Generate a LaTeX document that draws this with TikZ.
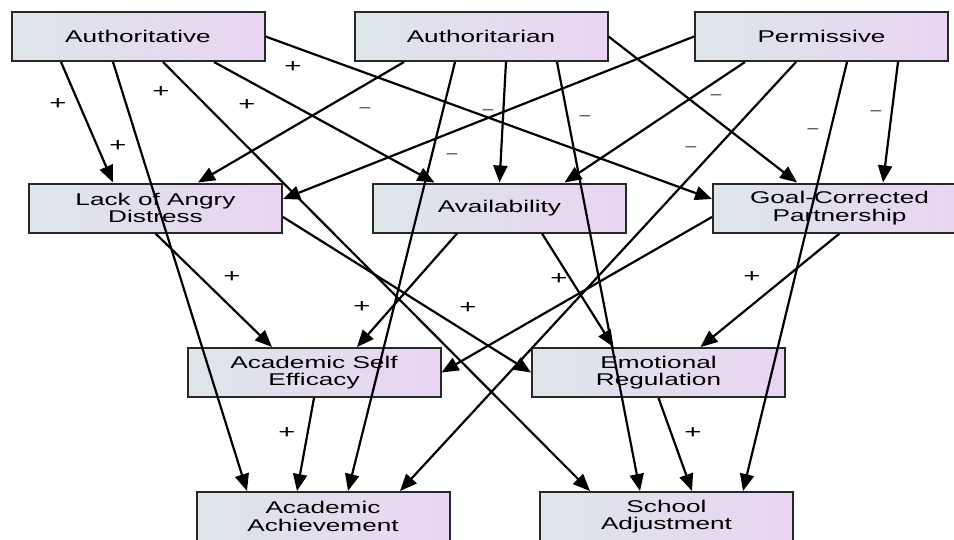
\documentclass[tikz,border=0pt]{standalone}
\usepackage{fontspec}
\setmainfont{Liberation Sans}[FakeStretch=1.54]
\usetikzlibrary{arrows.meta}
\definecolor{boxL}{RGB}{221,230,233}
\definecolor{boxR}{RGB}{233,212,243}
\definecolor{boxD}{RGB}{40,40,40}
\begin{document}
\begin{tikzpicture}[x=1pt,y=-1pt,
  box/.style={draw=boxD, line width=2pt, left color=boxL, right color=boxR,
    minimum width=253pt, minimum height=49pt, inner sep=0pt, align=center,
    font=\fontsize{17}{17.5}\selectfont},
  arr/.style={line width=2.2pt, -{Triangle[length=17pt,width=14pt]}},
  pl/.style={font=\fontsize{19}{19}\selectfont, inner sep=0pt},
  mi/.style={font=\fontsize{12.5}{12.5}\selectfont, inner sep=0pt}]
\clip (0,0) rectangle (954,539);
\fill[white] (0,0) rectangle (954,539);
% nodes
\node[box] (auth)  at (138,36.5)   {Authoritative};
\node[box] (autr)  at (481,36.5)   {Authoritarian};
\node[box] (perm)  at (821.5,36.5) {Permissive};
\node[box] (lack)  at (155.5,208)  {Lack of Angry\\Distress};
\node[box] (avail) at (499.5,208)  {Availability};
\node[box] (goal)  at (839.5,208)  {Goal-Corrected\\Partnership};
\node[box] (eff)   at (314,372.5)  {Academic Self\\Efficacy};
\node[box] (emo)   at (658.5,372.5){Emotional\\Regulation};
\node[box] (ach)   at (323,516.5)  {Academic\\Achievement};
\node[box] (sch)   at (666.5,516.5){School\\Adjustment};
% Authoritative
\draw[arr] ([xshift=-77pt]auth.south) -- ([xshift=-42.5pt]lack.north);
\draw[arr] ([xshift=-25pt]auth.south) -- ([xshift=-76pt]ach.north);
\draw[arr] ([xshift=25pt]auth.south) -- ([xshift=-76.5pt]sch.north);
\draw[arr] ([xshift=76pt]auth.south) -- ([xshift=-65pt]avail.north);
\draw[arr] (auth.east) -- ([yshift=9pt]goal.west);
% Authoritarian
\draw[arr] ([xshift=-77pt]autr.south) -- ([xshift=42.5pt]lack.north);
\draw[arr] ([xshift=-26pt]autr.south) -- ([xshift=25pt]ach.north);
\draw[arr] ([xshift=25pt]autr.south) -- (avail.north);
\draw[arr] ([xshift=76pt]autr.south) -- ([xshift=-26.5pt]sch.north);
\draw[arr] (autr.east) -- ([xshift=-42.5pt]goal.north);
% Permissive
\draw[arr] (perm.west) -- ([yshift=9pt]lack.east);
\draw[arr] ([xshift=-76.5pt]perm.south) -- ([xshift=65pt]avail.north);
\draw[arr] ([xshift=-25.5pt]perm.south) -- ([xshift=77pt]ach.north);
\draw[arr] ([xshift=25.5pt]perm.south) -- ([xshift=76.5pt]sch.north);
\draw[arr] ([xshift=76.5pt]perm.south) -- ([xshift=43.5pt]goal.north);
% middle row
\draw[arr] (lack.south) -- ([xshift=-42pt]eff.north);
\draw[arr] ([yshift=-9pt]lack.east) -- (emo.west);
\draw[arr] ([xshift=-42.5pt]avail.south) -- ([xshift=43pt]eff.north);
\draw[arr] ([xshift=42.5pt]avail.south) -- ([xshift=-45pt]emo.north);
\draw[arr] ([yshift=-9pt]goal.west) -- (eff.east);
\draw[arr] (goal.south) -- ([xshift=42pt]emo.north);
% third row
\draw[arr] (eff.south) -- ([xshift=-26pt]ach.north);
\draw[arr] (emo.south) -- ([xshift=25.5pt]sch.north);
% labels
\node[pl] (p1)  at (58,104)  {+};
\node[pl] (p2)  at (118,146) {+};
\node[pl] (p3)  at (161,92)  {+};
\node[pl] (p4)  at (247,105) {+};
\node[pl] (p5)  at (293,67)  {+};
\node[pl] (p6)  at (232,277) {+};
\node[pl] (p7)  at (362,307) {+};
\node[pl] (p8)  at (468,308) {+};
\node[pl] (p9)  at (559,279) {+};
\node[pl] (p10) at (752,277) {+};
\node[pl] (p11) at (287,433) {+};
\node[pl] (p12) at (693,433) {+};
\node[mi] (m1) at (365,110) {–};
\node[mi] (m2) at (488,112) {–};
\node[mi] (m3) at (452,156) {–};
\node[mi] (m4) at (585,118) {–};
\node[mi] (m5) at (716,97)  {–};
\node[mi] (m6) at (691,149) {–};
\node[mi] (m7) at (813,131) {–};
\node[mi] (m8) at (876,113) {–};
\end{tikzpicture}
\end{document}
